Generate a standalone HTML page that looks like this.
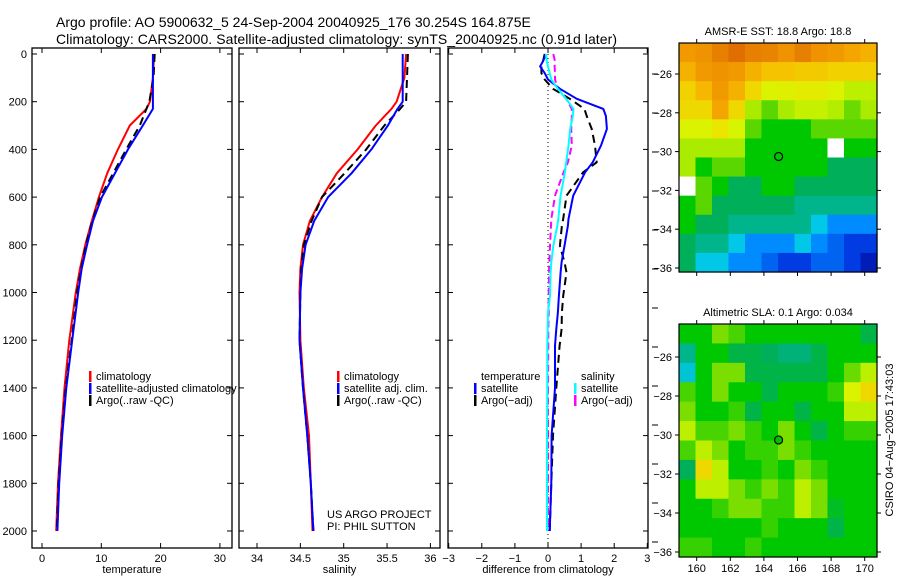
<!DOCTYPE html>
<html><head><meta charset="utf-8"><style>
body{margin:0;background:#fff;}
svg{display:block;font-family:"Liberation Sans",sans-serif;}
</style></head><body>
<svg id="fig" width="900" height="580" viewBox="0 0 900 580">
<text x="56" y="27" font-size="14">Argo profile: AO 5900632_5 24-Sep-2004 20040925_176 30.254S 164.875E</text>
<text x="56" y="44" font-size="14" textLength="561">Climatology: CARS2000. Satellite-adjusted climatology: synTS_20040925.nc (0.91d later)</text>
</svg>
<script>
// ---------- data ----------
const depthProf = [0,100,200,230,300,400,500,600,700,800,900,1000,1200,1400,1600,1800,2000];
const tempClim = [18.9,18.7,18.2,17.6,14.8,12.8,11.0,9.6,8.4,7.3,6.4,5.7,4.6,3.8,3.2,2.7,2.4];
const tempSat  = [18.7,18.7,18.7,18.7,17.0,14.5,12.3,10.1,8.6,7.6,6.7,6.1,5.1,4.1,3.4,2.9,2.6];
const tempArgo = [19.0,18.8,18.1,17.6,16.5,14.2,12.0,9.8,8.5,7.4,6.6,5.9,5.0,4.0,3.3,2.8,2.5];
const salClim = [35.72,35.70,35.61,35.55,35.37,35.16,34.92,34.75,34.61,34.53,34.50,34.49,34.50,34.54,34.60,34.62,34.64];
const salSat  = [35.68,35.68,35.68,35.62,35.51,35.32,35.09,34.82,34.66,34.56,34.52,34.50,34.49,34.53,34.58,34.62,34.65];
const salArgo = [35.74,35.73,35.72,35.65,35.47,35.26,35.01,34.75,34.63,34.54,34.51,34.50,34.49,34.53,34.58,34.62,34.65];
const depthDiff = [0,30,52,80,107,146,188,230,260,314,384,454,496,594,692,720,804,873,916,1014,1083,1153,1223,1400,1600,1800,2000];
const diffTempSat  = [-0.06,-0.15,-0.24,-0.1,0,0.36,0.87,1.67,1.75,1.78,1.6,1.35,1.12,0.76,0.62,0.6,0.5,0.41,0.38,0.33,0.3,0.25,0.21,0.21,0.11,0.1,0.05];
const diffTempArgo = [-0.1,-0.15,-0.2,-0.2,-0.1,0.15,0.66,1.1,1.17,1.32,1.42,1.47,1.06,0.56,0.46,0.42,0.36,0.5,0.56,0.46,0.42,0.41,0.35,0.25,0.15,0.1,0.05];
const diffSalSat   = [-0.06,-0.04,0,0.05,0.1,0.3,0.55,0.77,0.75,0.67,0.62,0.55,0.51,0.38,0.31,0.28,0.16,0.1,0.08,0.06,0,-0.01,-0.02,-0.02,-0.03,-0.03,-0.03];
const diffSalArgo  = [0.16,0.21,0.2,0.21,0.21,0.3,0.55,0.72,0.72,0.7,0.72,0.6,0.47,0.21,0.1,0.09,0.06,0.04,0.03,0.02,0.02,0.01,0.01,0,0,0,0];
const depthTicks = [0,200,400,600,800,1000,1200,1400,1600,1800,2000];
const tempTicks = [0,10,20,30];
const salTicks = [34,34.5,35,35.5,36];
const diffTicks = [-3,-2,-1,0,1,2,3];
const lonTicks = [160,162,164,166,168,170];
const latTicks = [-26,-28,-30,-32,-34,-36];
// map colour index grids (12x12, rows north->south); null = no data
const sstGrid = [
[8.2,8.3,8.7,9,8.7,8.6,8.3,8.7,8.3,8.2,8,7.8],
[7.8,8.2,8.3,8.2,7.8,7.5,7.5,7.4,7.4,7.3,7.3,7.3],
[7.3,7.7,8.2,7.8,7.2,6.6,6.7,6.8,6.8,6.6,6.2,6.2],
[7.2,7.2,8,7.2,6,5.5,6,6.3,6.3,6.1,5.6,6],
[6.6,6.6,7,6.5,5.5,5,5,5,5.5,5.5,5.5,5.5],
[6,6,6,6,5,5,5,5,5,null,5,5],
[6,5,5.5,5.5,5,5,5,5,5,4.5,4.5,4.5],
[null,5.5,5,4.5,4.5,5,5,4.5,4.5,4.5,4.5,4.5],
[5,5.5,4.5,4.5,4.5,4.5,4.5,4,4,4,4,4],
[5,4.5,4.5,4,4,4,4,4,3.5,3,3,3],
[4.5,4,4,3.5,3,3,3,3.5,3,2.5,2,2],
[4.5,3.5,3.5,3,3,2.5,2,2,2.5,2.5,2,1.5]];
const slaGrid = [
[5,5,5.7,5.4,5,5,5,5,5,5,5,4.6],
[4,5,5,4.6,4.6,4.5,4.2,4.2,4.6,5,5,5],
[3.6,5,5.7,5.7,4.6,4.6,4.6,4.6,4.6,5,5.6,6.2],
[5.4,5,5.7,5,5,4.6,5,5,5,5.3,6.6,7.2],
[5.7,5,5,5.3,4.6,5,5,4.6,5,5,6.2,6.2],
[6.2,5.4,5.4,5.7,5.3,5,5.7,5,4.6,5,5.3,5.3],
[5.4,6.2,5.7,5,5.3,5.3,5.7,5.3,5,5,5,5],
[4.5,7.2,6.2,5,5,5.3,5,5.7,5.3,5,5,5],
[5,6.2,6.2,5.7,5.3,5.7,5.3,6.2,5.7,5,5,5],
[5,5,5.3,5.7,5.7,5.3,5.3,6.2,5.7,4.8,5,5],
[5,5,5,5,5,5.3,5,5,5,4.6,5,5],
[5.3,5.3,5,5,5.3,5,5,5,5,5,5,5]];
const floatLon = [164.875];
const floatLat = [-30.254];

// ---------- drawing ----------
const svg = document.getElementById('fig');
const NS = 'http://www.w3.org/2000/svg';
function mk(tag, attrs, parent){const e=document.createElementNS(NS,tag);for(const k in attrs)e.setAttribute(k,attrs[k]);(parent||svg).appendChild(e);return e;}
const yTop=48, yBot=548;
const yOf = p => 54 + p*0.2385;

function panel(name, x0, x1, xmap, ticks, xlabel, fmt){
  const g = mk('g',{});
  
  
  const fr = mk('rect',{x:x0,y:yTop,width:x1-x0,height:yBot-yTop,fill:'none',stroke:'#000','stroke-width':1.3},g);
  
  
  ticks.forEach(t=>{
    const x=xmap(t);
    mk('line',{x1:x,x2:x,y1:yTop,y2:yTop+5,stroke:'#000'},g);
    mk('line',{x1:x,x2:x,y1:yBot,y2:yBot-5,stroke:'#000'},g);
    const tl = mk('text',{x:x,y:yBot+14,'font-size':11,'text-anchor':'middle'},g);
    tl.textContent = fmt(t);
    
    
  });
  depthTicks.forEach(p=>{
    const y=yOf(p);
    mk('line',{x1:x0,x2:x0+5,y1:y,y2:y,stroke:'#000'},g);
    mk('line',{x1:x1,x2:x1-5,y1:y,y2:y,stroke:'#000'},g);
  });
  const xl = mk('text',{x:(x0+x1)/2,y:573,'font-size':11,'text-anchor':'middle'},g);
  xl.textContent = xlabel;
  
  
  return g;
}
function series(g, name, depths, vals, xmap, color, dash){
  const pts = depths.map((d,i)=>xmap(vals[i]).toFixed(1)+','+yOf(d).toFixed(1)).join(' ');
  const a = {points:pts,fill:'none',stroke:color,'stroke-width':2,'stroke-linejoin':'round'};
  if(dash) a['stroke-dasharray']=dash;
  const l = mk('polyline',a,g);
  
  
}
function legend(g, name, x, y, color, label){
  const r = mk('rect',{x:x,y:y-9,width:2.5,height:11,fill:color},g);
  
  
  const t = mk('text',{x:x+7,y:y,'font-size':11},g);
  t.textContent = label;
  
  
}

depthTicks.forEach(p=>{
  const t = mk('text',{x:27,y:yOf(p)+4,'font-size':11,'text-anchor':'end'});
  t.textContent = p;
  
  
});

const xT = v => 42 + v*5.93;
const g1 = panel('temperature-panel',32,232,xT,tempTicks,'temperature',t=>t);
series(g1,'temperature-climatology-line',depthProf,tempClim,xT,'#ff0000');
series(g1,'temperature-argo-line',depthProf,tempArgo,xT,'#000','8,5');
series(g1,'temperature-satellite-line',depthProf,tempSat,xT,'#0000ff');
legend(g1,'legend-climatology',89,380,'#ff0000','climatology');
legend(g1,'legend-satellite-adjusted',89,392,'#0000ff','satellite-adjusted climatology');
legend(g1,'legend-argo',89,404,'#000','Argo(..raw -QC)');

const xS = v => 257 + (v-34)*86.7;
const g2 = panel('salinity-panel',239,440,xS,salTicks,'salinity',t=>t);
series(g2,'salinity-climatology-line',depthProf,salClim,xS,'#ff0000');
series(g2,'salinity-argo-line',depthProf,salArgo,xS,'#000','8,5');
series(g2,'salinity-satellite-line',depthProf,salSat,xS,'#0000ff');
legend(g2,'legend-sal-climatology',337,380,'#ff0000','climatology');
legend(g2,'legend-sal-satellite',337,392,'#0000ff','satellite adj. clim.');
legend(g2,'legend-sal-argo',337,404,'#000','Argo(..raw -QC)');
[['US ARGO PROJECT',518,'project-credit'],['PI: PHIL SUTTON',530,'pi-credit']].forEach(a=>{
  const t = mk('text',{x:327,y:a[1],'font-size':11},g2);
  t.textContent=a[0];
  
  
});

const xD = v => 548 + v*33.1;
const g3 = panel('difference-panel',448,648,xD,diffTicks,'difference from climatology',t=>t<0?'\u2212'+(-t):t);
mk('line',{x1:xD(0),x2:xD(0),y1:yOf(0),y2:yBot,stroke:'#000','stroke-dasharray':'1,3'},g3);
series(g3,'diff-salinity-argo-line',depthDiff,diffSalArgo,xD,'#ff00ff','7,4');
series(g3,'diff-temperature-argo-line',depthDiff,diffTempArgo,xD,'#000','8,5');
series(g3,'diff-temperature-satellite-line',depthDiff,diffTempSat,xD,'#0000ff');
series(g3,'diff-salinity-satellite-line',depthDiff,diffSalSat,xD,'#00ffff');
[['temperature',481,'legend-temperature-header'],['salinity',581,'legend-salinity-header']].forEach(a=>{
  const t = mk('text',{x:a[1],y:380,'font-size':11},g3);
  t.textContent=a[0];
  
  
});
legend(g3,'legend-temp-satellite',474,392,'#0000ff','satellite');
legend(g3,'legend-temp-argo',474,404,'#000','Argo(\u2212adj)');
legend(g3,'legend-sal-satellite-diff',574,392,'#00ffff','satellite');
legend(g3,'legend-sal-argo-diff',574,404,'#ff00ff','Argo(\u2212adj)');
for(let i=0;i<13;i++){ mk('line',{x1:652,x2:658,y1:74+i*39,y2:74+i*39,stroke:'#000'}); }

// ---------- maps ----------
const cstops=[[1,[0,0,140]],[2,[0,60,225]],[3,[0,140,255]],[3.5,[0,200,230]],[4,[0,180,140]],[4.5,[0,175,90]],[5,[0,200,0]],[5.5,[90,215,0]],[6,[170,235,0]],[6.5,[215,245,0]],[7,[235,230,0]],[7.5,[245,195,0]],[8,[245,165,0]],[9,[225,110,0]]];
function cmap(v){
  if(v<=cstops[0][0]) return 'rgb('+cstops[0][1]+')';
  for(let i=1;i<cstops.length;i++){
    if(v<=cstops[i][0]){const a=cstops[i-1],b=cstops[i],f=(v-a[0])/(b[0]-a[0]);
      return 'rgb('+a[1].map((c,k)=>Math.round(c+(b[1][k]-c)*f)).join(',')+')';}
  }
  return 'rgb('+cstops[cstops.length-1][1]+')';
}
function drawMap(name, grid, x0,x1,y0,y1, latY, title, xlabels, markerFill){
  const g = mk('g',{});
  
  
  const lonX = lon => 696.7 + (lon-160)*16.8;
  const nr=grid.length, nc=grid[0].length, cw=(x1-x0)/nc, ch=(y1-y0)/nr;
  grid.forEach((row,r)=>row.forEach((v,c)=>{
    const cell = mk('rect',{x:(x0+c*cw).toFixed(2),y:(y0+r*ch).toFixed(2),width:(cw+0.6).toFixed(2),height:(ch+0.6).toFixed(2),fill:v===null?'#fff':cmap(v)},g);
    
    
  }));
  mk('rect',{x:x0,y:y0,width:x1-x0,height:y1-y0,fill:'none',stroke:'#000','stroke-width':1.2},g);
  lonTicks.forEach(l=>{const x=lonX(l);
    mk('line',{x1:x,x2:x,y1:y0-4,y2:y0,stroke:'#000'},g);
    mk('line',{x1:x,x2:x,y1:y1,y2:y1+4,stroke:'#000'},g);
    if(xlabels){const t=mk('text',{x:x,y:y1+15,'font-size':11,'text-anchor':'middle'},g);t.textContent=l;
      
      }
  });
  latTicks.forEach(la=>{const y=latY(la);
    mk('line',{x1:x0-4,x2:x0,y1:y,y2:y,stroke:'#000'},g);
    mk('line',{x1:x1,x2:x1+4,y1:y,y2:y,stroke:'#000'},g);
    const t=mk('text',{x:x0-7,y:y+4,'font-size':11,'text-anchor':'end'},g);t.textContent='\u2212'+(-la);
    
    
  });
  const tt=mk('text',{x:(x0+x1)/2,y:y0-8,'font-size':11,'text-anchor':'middle'},g);tt.textContent=title;
  
  
  const mk1=mk('circle',{cx:lonX(floatLon[0]),cy:latY(floatLat[0]),r:4,fill:markerFill,stroke:'#000','stroke-width':1.2},g);
  
  
}
drawMap('sst-map',sstGrid,679,877,43,272,la=>74+(-26-la)*19.4,'AMSR-E SST: 18.8 Argo: 18.8',false,'none');
drawMap('sla-map',slaGrid,679,877,324,557,la=>357+(-26-la)*19.5,'Altimetric SLA: 0.1 Argo: 0.034',true,'#00c000');
const ts = mk('text',{x:0,y:0,'font-size':11,'text-anchor':'middle',transform:'translate(893,440) rotate(-90)'});
ts.textContent='CSIRO 04\u2212Aug\u22122005 17:43:03';


</script>
</body></html>
